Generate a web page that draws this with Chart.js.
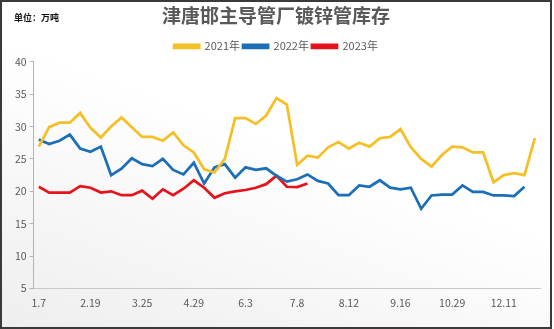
<!DOCTYPE html>
<html>
<head>
<meta charset="utf-8">
<script src="https://cdn.jsdelivr.net/npm/chart.js@4"></script>
<style>
  body { margin: 0; }
  #wrap {
    position: relative;
    width: 554px;
    height: 329px;
    background: linear-gradient(200deg, #ffffff 45%, #eeeeee 100%);
  }
  #myChart { display: block; }
  #frame {
    position: absolute;
    left: 0; top: 0;
    width: 552px; height: 329px;
    box-sizing: border-box;
    border: 2px solid #3a3a3a;
    pointer-events: none;
  }
  #unit {
    position: absolute;
    left: 14px; top: 11px;
    font: bold 9px "Noto Sans CJK SC", sans-serif;
    color: #111;
  }
</style>
</head>
<body>
<div id="wrap">
  <canvas id="myChart" width="554" height="329"></canvas>
  <div id="unit">单位：万吨</div>
  <div id="frame"></div>
</div>
<script>
const weekLabels = [
  "1.7", "1.14", "1.21", "1.28", "2.4", "2.19", "2.25", "3.4", "3.11", "3.18",
  "3.25", "4.1", "4.8", "4.15", "4.22", "4.29", "5.6", "5.13", "5.20", "5.27",
  "6.3", "6.10", "6.17", "6.24", "7.1", "7.8", "7.15", "7.22", "7.29", "8.5",
  "8.12", "8.19", "8.26", "9.2", "9.9", "9.16", "9.23", "9.30", "10.15", "10.22",
  "10.29", "11.5", "11.12", "11.19", "11.26", "12.11", "12.17", "12.24", "12.31",
];
const stock2021 = [
  26.9, 29.9, 30.6, 30.6, 32.1, 29.8, 28.3, 30.0, 31.4, 29.9,
  28.4, 28.4, 27.8, 29.1, 27.1, 26.0, 23.4, 22.9, 25.0, 31.3,
  31.3, 30.4, 31.7, 34.4, 33.4, 24.1, 25.5, 25.2, 26.8, 27.6,
  26.6, 27.5, 26.9, 28.2, 28.4, 29.6, 26.8, 25.0, 23.8, 25.6,
  26.9, 26.8, 26.0, 26.0, 21.4, 22.5, 22.8, 22.5, 28.2,
];
const stock2022 = [
  28.0, 27.3, 27.8, 28.75, 26.6, 26.1, 26.9, 22.5, 23.5, 25.1,
  24.2, 23.9, 25.0, 23.3, 22.6, 24.4, 21.2, 23.7, 24.2, 22.1,
  23.7, 23.3, 23.55, 22.4, 21.5, 21.85, 22.6, 21.6, 21.2, 19.4,
  19.4, 20.9, 20.7, 21.7, 20.55, 20.3, 20.55, 17.3, 19.35, 19.5,
  19.5, 20.9, 19.9, 19.9, 19.35, 19.35, 19.25, 20.7,
];
const stock2023 = [
  20.7, 19.8, 19.8, 19.8, 20.8, 20.55, 19.8, 20.0, 19.4, 19.4,
  20.1, 18.85, 20.3, 19.4, 20.4, 21.7, 20.55, 19.0, 19.7, 20.0,
  20.2, 20.55, 21.1, 22.4, 20.7, 20.65, 21.2,
];
const seriesNames = ["2021年", "2022年", "2023年"];
const seriesColors = ["#F5BF27", "#1C6FB6", "#E5141C"];
const yTicks = { min: 5, max: 40, step: 5 };

const FONT = '"Noto Sans CJK SC", "Noto Sans", sans-serif';
const ctx = document.getElementById("myChart").getContext("2d");

new Chart(ctx, {
  type: "line",
  data: {
    labels: weekLabels,
    datasets: [stock2021, stock2022, stock2023].map((values, i) => ({
      label: seriesNames[i],
      data: values,
      borderColor: seriesColors[i],
      backgroundColor: seriesColors[i],
      borderWidth: 2.75,
      pointRadius: 0,
      tension: 0,
    })),
  },
  options: {
    responsive: false,
    animation: false,
    layout: { padding: { left: 12, right: 14, top: 0, bottom: 12 } },
    plugins: {
      title: {
        display: true,
        text: "津唐邯主导管厂镀锌管库存",
        color: "#595959",
        font: { family: FONT, size: 19, weight: "bold" },
        padding: { top: 4, bottom: 11 },
      },
      legend: {
        labels: {
          boxWidth: 25,
          boxHeight: 3,
          padding: 3,
          color: "#595959",
          font: { family: FONT, size: 11 },
        },
      },
      tooltip: { enabled: false },
    },
    scales: {
      x: {
        offset: true,
        grid: { display: false, drawTicks: false },
        border: { display: true, color: "#c8c8c8", width: 1 },
        ticks: {
          autoSkip: false,
          maxRotation: 0,
          padding: 8,
          color: "#595959",
          font: { family: FONT, size: 10.5 },
          callback: (value, index) => (index % 5 === 0 ? weekLabels[index] : ""),
        },
      },
      y: {
        min: yTicks.min,
        max: yTicks.max,
        grid: {
          display: true,
          drawOnChartArea: false,
          drawTicks: true,
          tickLength: 4,
          color: "#b4b4b4",
        },
        border: { display: true, color: "#b4b4b4", width: 1 },
        ticks: {
          stepSize: yTicks.step,
          padding: 3,
          color: "#595959",
          font: { family: FONT, size: 10.5 },
        },
      },
    },
  },
});
</script>
</body>
</html>
